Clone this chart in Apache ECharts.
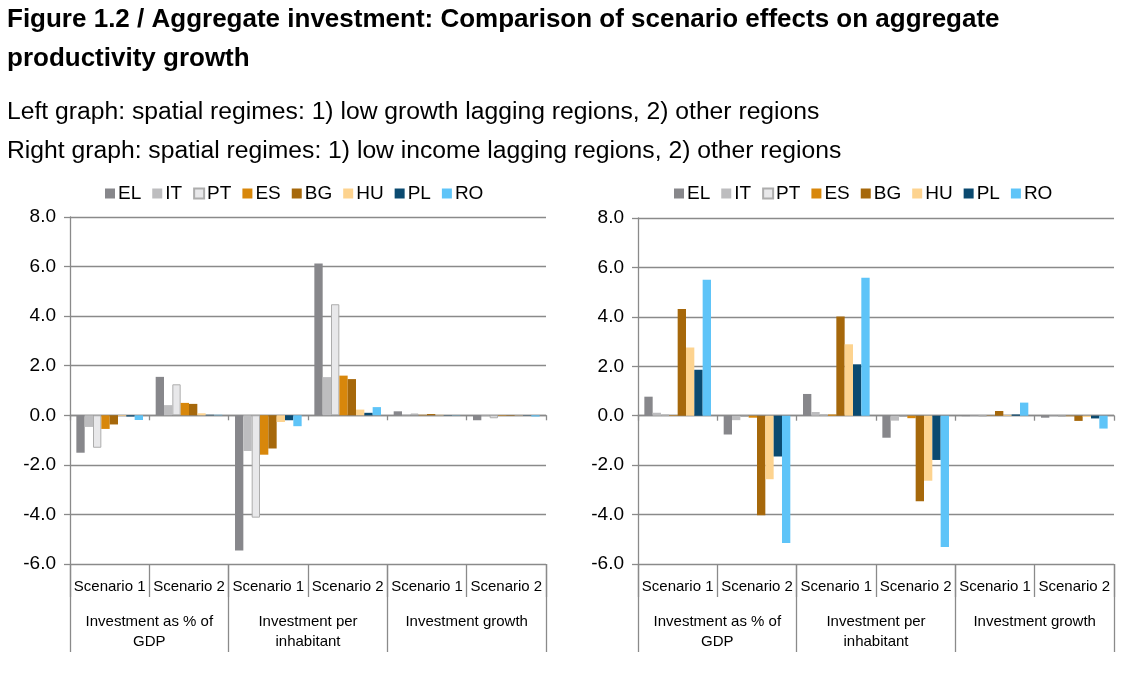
<!DOCTYPE html>
<html>
<head>
<meta charset="utf-8">
<script src="https://cdn.jsdelivr.net/npm/echarts@6/dist/echarts.min.js"></script>
<style>
html,body{margin:0;padding:0;background:#fff;}
#chart{width:1131px;height:675px;}
</style>
</head>
<body>
<div id="chart"></div>
<script>
// ---- Data ----
var countries = ['EL', 'IT', 'PT', 'ES', 'BG', 'HU', 'PL', 'RO'];
var scenarios = ['Scenario 1', 'Scenario 2', 'Scenario 1', 'Scenario 2', 'Scenario 1', 'Scenario 2'];
var groups = ['Investment as % of\nGDP', 'Investment per\ninhabitant', 'Investment growth'];
var yTicks = { min: -6, max: 8, interval: 2 };

// Left graph: low growth lagging regions vs other regions
var leftEL = [-1.51, 1.55, -5.46, 6.12, 0.16, -0.20];
var leftIT = [-0.47, 0.41, -1.44, 1.54, 0.03, -0.02];
var leftPT = [-1.31, 1.25, -4.13, 4.48, 0.07, -0.12];
var leftES = [-0.55, 0.50, -1.59, 1.60, 0.02, -0.02];
var leftBG = [-0.37, 0.46, -1.34, 1.46, 0.05, -0.02];
var leftHU = [-0.03, 0.08, -0.27, 0.23, 0.02, -0.01];
var leftPL = [-0.05, 0.02, -0.20, 0.10, 0.01, -0.01];
var leftRO = [-0.19, 0.02, -0.44, 0.33, 0.01, -0.05];

// Right graph: low income lagging regions vs other regions
var rightEL = [0.77, -0.76, 0.88, -0.89, -0.02, -0.08];
var rightIT = [0.12, -0.18, 0.15, -0.20, -0.02, -0.03];
var rightPT = [0.03, -0.05, 0.04, -0.05, -0.01, -0.03];
var rightES = [0.02, -0.08, 0.05, -0.10, 0.01, -0.02];
var rightBG = [4.32, -4.03, 4.01, -3.46, 0.19, -0.21];
var rightHU = [2.76, -2.57, 2.89, -2.63, 0.03, -0.05];
var rightPL = [1.86, -1.65, 2.08, -1.79, 0.05, -0.11];
var rightRO = [5.50, -5.15, 5.58, -5.31, 0.53, -0.52];

var leftData = [leftEL, leftIT, leftPT, leftES, leftBG, leftHU, leftPL, leftRO];
var rightData = [rightEL, rightIT, rightPT, rightES, rightBG, rightHU, rightPL, rightRO];

// ---- Styles ----
var FONT = 'Liberation Sans, Arial, sans-serif';
var GRAY = '#8a8a8a';
var colors = ['#87878b', '#bdbdbf', '#e8e8ea', '#d8870b', '#a6680b', '#fdd38f', '#0b4a70', '#5ec4f8'];

var chart = echarts.init(document.getElementById('chart'), null, { renderer: 'canvas' });

function xAxesFor(gridIndex) {
  return [
    { // axis line at zero with small ticks
      type: 'category', gridIndex: gridIndex, data: scenarios, position: 'bottom',
      axisLine: { show: true, onZero: true, lineStyle: { color: GRAY, width: 1.3 } },
      axisTick: { show: true, length: 5, interval: 0, lineStyle: { color: GRAY, width: 1.3 } },
      axisLabel: { show: false }, splitLine: { show: false }
    },
    { // scenario labels
      type: 'category', gridIndex: gridIndex, data: scenarios, position: 'bottom',
      axisLine: { show: false, onZero: false },
      axisTick: { show: true, length: 33, interval: 0, lineStyle: { color: GRAY, width: 1.3 } },
      axisLabel: { show: true, interval: 0, margin: 15, fontSize: 15, color: '#000', fontFamily: FONT },
      splitLine: { show: false }
    },
    { // group labels
      type: 'category', gridIndex: gridIndex, data: groups, position: 'bottom',
      axisLine: { show: false, onZero: false },
      axisTick: { show: true, length: 88, interval: 0, lineStyle: { color: GRAY, width: 1.3 } },
      axisLabel: { show: true, interval: 0, margin: 48, fontSize: 15, lineHeight: 20, color: '#000', fontFamily: FONT },
      splitLine: { show: false }
    }
  ];
}

function yAxisFor(gridIndex) {
  return {
    type: 'value', gridIndex: gridIndex, min: yTicks.min, max: yTicks.max, interval: yTicks.interval,
    axisLine: { show: true, lineStyle: { color: GRAY, width: 1.3 } },
    axisTick: { show: true, length: 6, lineStyle: { color: GRAY, width: 1.3 } },
    axisLabel: { margin: 14, fontSize: 19, color: '#000', fontFamily: FONT,
      formatter: function (v) { return v.toFixed(1); } },
    splitLine: { show: true, lineStyle: { color: GRAY, width: 1.3 } }
  };
}

var series = [];
function addSeries(dataSets, gridIdx) {
  dataSets.forEach(function (vals, i) {
    var s = {
      name: countries[i], type: 'bar', xAxisIndex: gridIdx * 3, yAxisIndex: gridIdx,
      data: vals, barGap: '0%', barCategoryGap: '16%',
      itemStyle: { color: colors[i] }, emphasis: { disabled: true }
    };
    if (countries[i] === 'PT') {
      s.itemStyle.borderColor = '#adadad';
      s.itemStyle.borderWidth = 1;
    }
    series.push(s);
  });
}
addSeries(leftData, 0);
addSeries(rightData, 1);

var legendBase = {
  data: countries, top: 179, itemWidth: 10, itemHeight: 10, itemGap: 11,
  icon: 'rect', selectedMode: false,
  textStyle: { fontSize: 19, color: '#000', fontFamily: FONT, padding: [0, 0, 0, -2] }
};

chart.setOption({
  animation: false,
  backgroundColor: '#fff',
  textStyle: { fontFamily: FONT },
  title: [
    { text: 'Figure 1.2 / Aggregate investment: Comparison of scenario effects on aggregate\nproductivity growth',
      left: 2, top: -5,
      textStyle: { fontSize: 26, fontWeight: 'bold', color: '#000', lineHeight: 39, fontFamily: FONT } },
    { text: 'Left graph: spatial regimes: 1) low growth lagging regions, 2) other regions\nRight graph: spatial regimes: 1) low income lagging regions, 2) other regions',
      left: 2, top: 88,
      textStyle: { fontSize: 24.7, fontWeight: 'normal', color: '#000', lineHeight: 39, fontFamily: FONT } }
  ],
  legend: [
    Object.assign({}, legendBase, { left: 100 }),
    Object.assign({}, legendBase, { left: 669 })
  ],
  grid: [
    { left: 70, top: 217, width: 476, height: 347 },
    { left: 638, top: 218, width: 476, height: 346 }
  ],
  xAxis: xAxesFor(0).concat(xAxesFor(1)),
  yAxis: [yAxisFor(0), yAxisFor(1)],
  series: series
});
</script>
</body>
</html>
